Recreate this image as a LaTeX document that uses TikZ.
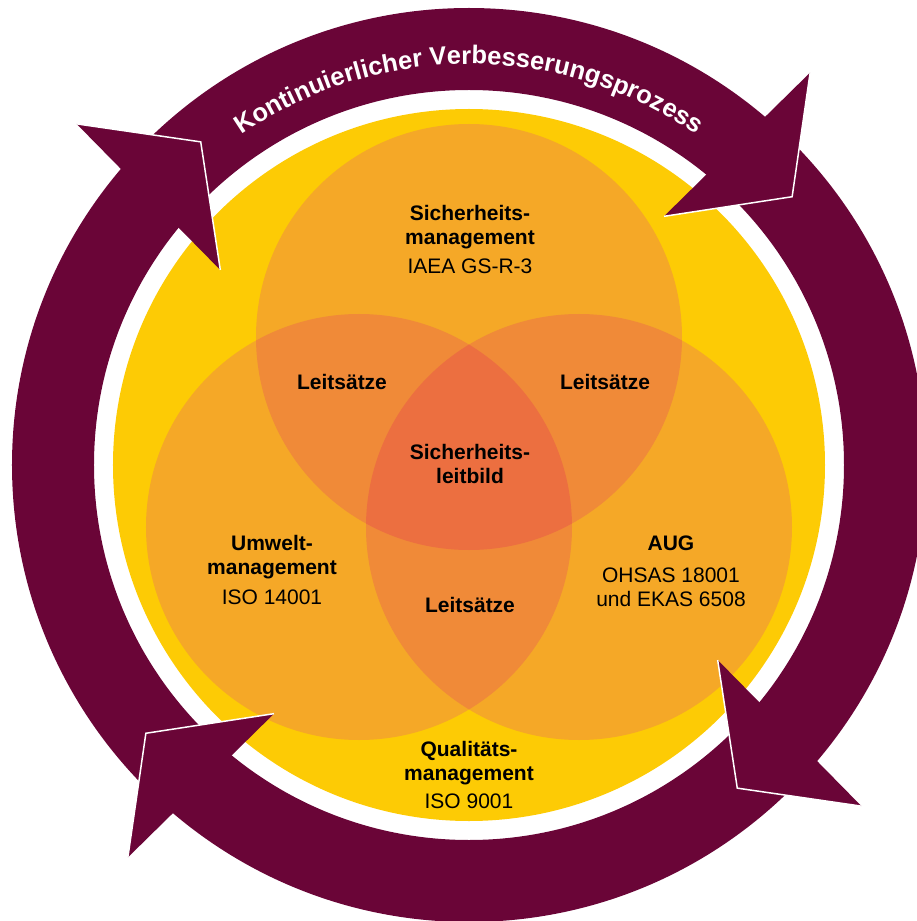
\documentclass[tikz,border=0pt]{standalone}
\usepackage{fontspec}
\setmainfont{Liberation Sans}
\usetikzlibrary{decorations.text}
\definecolor{kvpred}{RGB}{106,5,55}
\definecolor{kvpgelb}{RGB}{253,203,5}
\definecolor{venneins}{RGB}{245,168,39}
\definecolor{vennzwei}{RGB}{240,138,56}
\definecolor{venndrei}{RGB}{236,111,64}
\tikzset{
  lbl/.style={font=\fontsize{21}{24}\selectfont\bfseries,align=center,inner sep=0pt},
  pfeilspitze/.style={fill=kvpred},
  pfeilrand/.style={draw=white,line width=1.5pt},
}

\begin{document}
\begin{tikzpicture}[x=1pt,y=1pt]
\useasboundingbox (-469,-456) rectangle (448,465);
\coordinate (ctop) at (0,128);
\coordinate (cleft) at (-110,-62);
\coordinate (cright) at (110,-62);
\fill[kvpgelb] (0,0) circle (356);
\foreach \c in {ctop,cleft,cright}
  \fill[venneins] (\c) circle (213);
\begin{scope}
  \clip (ctop) circle (213);
  \fill[vennzwei] (cleft) circle (213);
  \fill[vennzwei] (cright) circle (213);
\end{scope}
\begin{scope}
  \clip (cleft) circle (213);
  \fill[vennzwei] (cright) circle (213);
\end{scope}
\begin{scope}
  \clip (ctop) circle (213);
  \clip (cleft) circle (213);
  \fill[venndrei] (cright) circle (213);
\end{scope}
\fill[kvpred,even odd rule] (0,0) circle (457) (0,0) circle (375);
\foreach \a in {139,49,-41,-131}{
  \fill[pfeilspitze] (\a:520) -- (\a-9.3:420) -- (\a+2.9:316) -- cycle;
  \draw[pfeilrand] (\a:520) -- (\a-9.3:420) -- (\a+2.9:316);
}
\path[decorate,decoration={text along path,text align=center,
  text={|\fontsize{25.5}{25.5}\selectfont\bfseries\color{white}|Kontinuierlicher Verbesserungsprozess}}]
  (126:401) arc (126:54:401);
\node[lbl] (sicher) at (1,225.5) {Sicherheits-\\management\\[5pt]{\mdseries IAEA GS-R-3}};
\node[lbl] (umwelt) at (-197,-104.5) {Umwelt-\\management\\[6pt]{\mdseries ISO 14001}};
\node[lbl] (aug) at (202,-106.7) {AUG\\[8pt]{\mdseries OHSAS 18001}\\{\mdseries und EKAS 6508}};
\node[lbl] (quali) at (0,-309.5) {Qualitäts-\\management\\[4pt]{\mdseries ISO 9001}};
\node[lbl] (leitbild) at (1,1) {Sicherheits-\\leitbild};
\node[lbl] (leitL) at (-127,83) {Leitsätze};
\node[lbl] (leitR) at (136,83) {Leitsätze};
\node[lbl] (leitU) at (1,-140) {Leitsätze};
\end{tikzpicture}
\end{document}
